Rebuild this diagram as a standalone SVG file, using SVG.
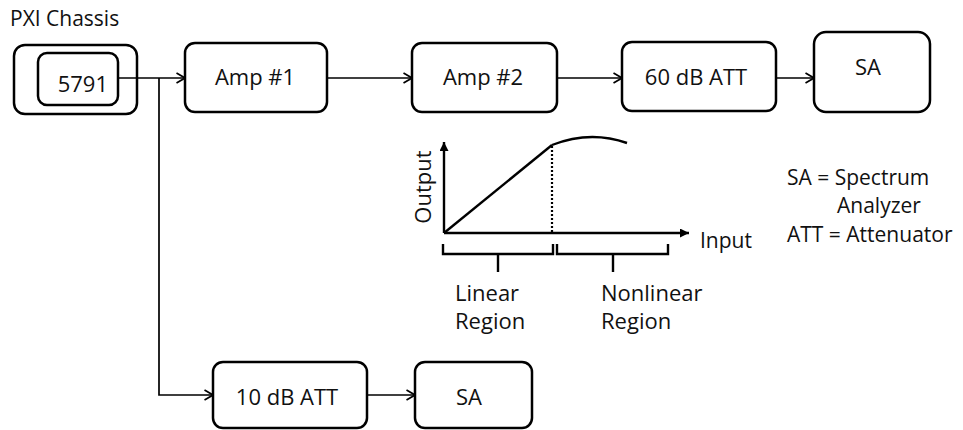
<svg xmlns="http://www.w3.org/2000/svg" width="963" height="430" viewBox="0 0 963 430">
  <style>
    text { font-family: "Open Sans", "Noto Sans", "Liberation Sans", sans-serif; font-size: 22px; fill: #111111; }
    .box { fill: #ffffff; stroke: #000000; stroke-width: 2.5; }
    .wire { fill: none; stroke: #000000; stroke-width: 1.7; }
    .axis { fill: none; stroke: #000000; stroke-width: 2.4; }
    .mid { text-anchor: middle; }
    .note { font-size: 21px; }
  </style>
  <defs>
    <marker id="open-arrow" viewBox="0 0 10 12" refX="9.5" refY="6" markerWidth="10" markerHeight="12" markerUnits="userSpaceOnUse" orient="auto">
      <polyline points="1,1 9.5,6 1,11" fill="none" stroke="#000000" stroke-width="1.7"/>
    </marker>
    <marker id="solid-arrow" viewBox="0 0 10 10" refX="10" refY="5" markerWidth="9" markerHeight="9" markerUnits="userSpaceOnUse" orient="auto">
      <path d="M0,0 L10,5 L0,10 Z" fill="#000000"/>
    </marker>
  </defs>

  <!-- chassis holding the 5791 module -->
  <g id="chassis">
    <text x="10" y="26" style="font-size:21px">PXI Chassis</text>
    <rect class="box" x="14" y="45" width="123" height="69" rx="11"/>
  </g>
  <g id="module-5791">
    <rect class="box" x="38" y="53" width="80" height="52" rx="9"/>
    <text x="108" y="92" text-anchor="end">5791</text>
  </g>

  <!-- upper chain -->
  <g id="amp1">
    <rect class="box" x="185" y="43" width="142" height="69" rx="10"/>
    <text class="mid" x="255" y="85">Amp #1</text>
  </g>
  <g id="amp2">
    <rect class="box" x="412" y="43" width="145" height="69" rx="10"/>
    <text class="mid" x="483" y="85">Amp #2</text>
  </g>
  <g id="att60">
    <rect class="box" x="622" y="42" width="154" height="69" rx="10"/>
    <text class="mid" x="696" y="85">60 dB ATT</text>
  </g>
  <g id="sa-top">
    <rect class="box" x="814" y="32" width="116" height="80" rx="12"/>
    <text class="mid" x="868" y="75">SA</text>
  </g>

  <!-- lower chain -->
  <g id="att10">
    <rect class="box" x="213" y="362" width="154" height="66" rx="10"/>
    <text class="mid" x="287" y="405">10 dB ATT</text>
  </g>
  <g id="sa-bottom">
    <rect class="box" x="415" y="362" width="117" height="66" rx="10"/>
    <text class="mid" x="469" y="405">SA</text>
  </g>

  <!-- signal connections -->
  <g id="connectors">
    <line class="wire" x1="118" y1="78" x2="185" y2="78" marker-end="url(#open-arrow)"/>
    <polyline class="wire" points="159,78 159,395 213,395" marker-end="url(#open-arrow)"/>
    <line class="wire" x1="327" y1="78" x2="412" y2="78" marker-end="url(#open-arrow)"/>
    <line class="wire" x1="557" y1="78" x2="622" y2="78" marker-end="url(#open-arrow)"/>
    <line class="wire" x1="776" y1="78" x2="814" y2="78" marker-end="url(#open-arrow)"/>
    <line class="wire" x1="367" y1="395" x2="415" y2="395" marker-end="url(#open-arrow)"/>
  </g>

  <!-- amplifier transfer curve -->
  <g id="transfer-chart">
    <line class="axis" x1="444" y1="233" x2="444" y2="142" marker-end="url(#solid-arrow)"/>
    <line class="axis" x1="444" y1="233" x2="689" y2="233" marker-end="url(#solid-arrow)"/>
    <line class="axis" x1="444" y1="233" x2="552" y2="145"/>
    <path class="axis" d="M552,145 Q590,130 627,143"/>
    <line x1="552" y1="146" x2="552" y2="233" stroke="#000000" stroke-width="2.2" stroke-dasharray="2,2"/>
    <text class="mid" transform="translate(431,187) rotate(-90)">Output</text>
    <text x="700" y="248" style="font-size:21px">Input</text>
    <path class="axis" d="M443,244 V254 H553 V244" stroke-width="1.9"/>
    <line class="axis" x1="498" y1="254" x2="498" y2="272" stroke-width="1.9"/>
    <path class="axis" d="M557,244 V254 H668 V244" stroke-width="1.9"/>
    <line class="axis" x1="613" y1="254" x2="613" y2="272" stroke-width="1.9"/>
    <text x="455" y="301">Linear</text>
    <text x="455" y="329">Region</text>
    <text x="601" y="301">Nonlinear</text>
    <text x="601" y="329">Region</text>
  </g>

  <!-- abbreviations -->
  <g id="legend">
    <text class="note" x="787" y="185">SA = Spectrum</text>
    <text class="note" x="837" y="213">Analyzer</text>
    <text class="note" x="787" y="242">ATT = Attenuator</text>
  </g>
</svg>
